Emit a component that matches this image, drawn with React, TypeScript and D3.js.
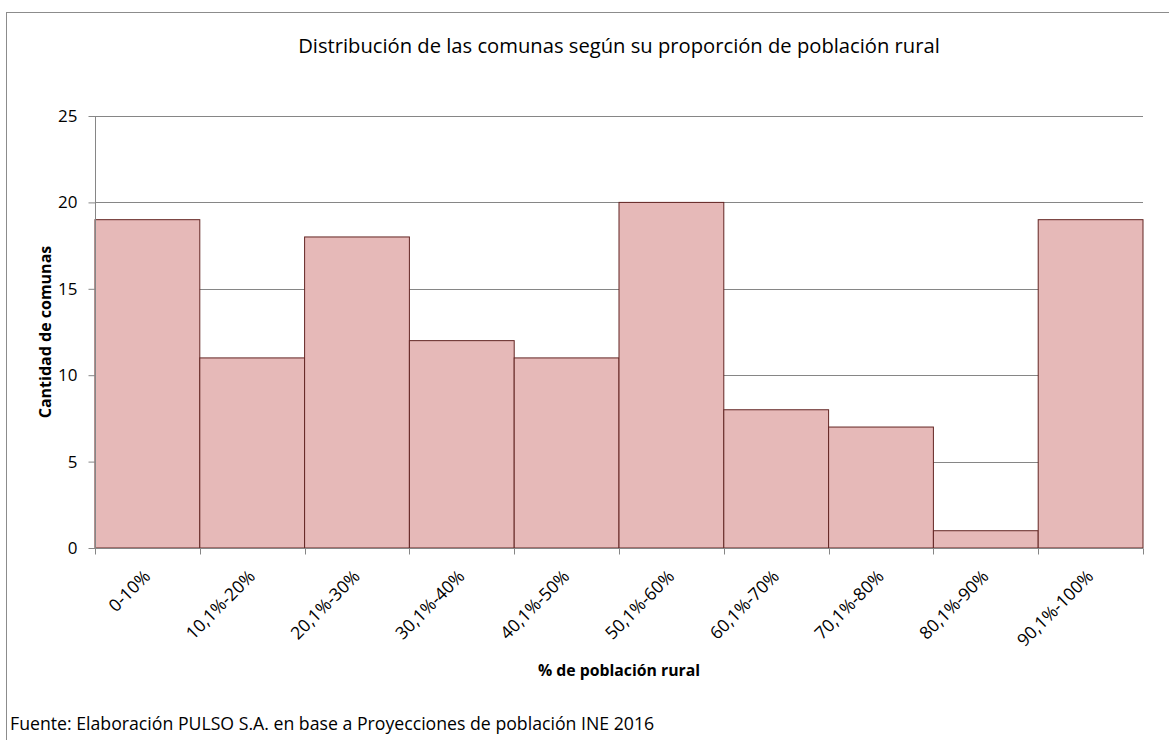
import React, { useRef, useEffect } from "react";
import * as d3 from "d3";

const categories = ["0-10%", "10,1%-20%", "20,1%-30%", "30,1%-40%", "40,1%-50%", "50,1%-60%", "60,1%-70%", "70,1%-80%", "80,1%-90%", "90,1%-100%"];
const counts = [19, 11, 18, 12, 11, 20, 8, 7, 1, 19];
const yTicks = [0, 5, 10, 15, 20, 25];

const FONT = "'Open Sans', 'Liberation Sans', sans-serif";

const App = () => {
  const svgRef = useRef<SVGSVGElement | null>(null);

  useEffect(() => {
    const svg = d3.select(svgRef.current);
    svg.selectAll("*").remove();

    const left = 95, right = 1143, top = 116, bottom = 548;

    const x = d3.scaleBand().domain(categories).range([left, right]).padding(0);
    const y = d3.scaleLinear().domain([0, 25]).range([bottom, top]);

    // chart frame
    svg.append("rect")
      .attr("x", 6.5).attr("y", 12.5)
      .attr("width", 1200).attr("height", 800)
      .attr("fill", "white").attr("stroke", "#8c8c8c").attr("stroke-width", 1);

    svg.append("text")
      .attr("x", 619).attr("y", 53)
      .attr("text-anchor", "middle")
      .attr("font-family", FONT).attr("font-size", 20.2)
      .text("Distribución de las comunas según su proporción de población rural");

    // gridlines
    svg.append("g")
      .selectAll("line")
      .data(yTicks.filter((t) => t > 0))
      .enter()
      .append("line")
      .attr("x1", left).attr("x2", right)
      .attr("y1", (d) => Math.round(y(d)) + 0.5).attr("y2", (d) => Math.round(y(d)) + 0.5)
      .attr("stroke", "#868686");

    // bars
    svg.append("g")
      .selectAll("rect")
      .data(counts)
      .enter()
      .append("rect")
      .attr("x", (d, i) => x(categories[i])!)
      .attr("y", (d) => y(d))
      .attr("width", x.bandwidth())
      .attr("height", (d) => bottom - y(d))
      .attr("fill", "#E6B9B8")
      .attr("stroke", "#632523")
      .attr("stroke-width", 1);

    // y axis
    const yAxis = svg.append("g")
      .attr("transform", `translate(${left + 0.5},0)`)
      .call(d3.axisLeft(y).tickValues(yTicks).tickSize(7).tickPadding(11).tickFormat(d3.format("d")));
    yAxis.select(".domain").attr("stroke", "#868686").attr("d", `M0,${top}V${bottom}`);
    yAxis.selectAll(".tick line").attr("stroke", "#868686");
    yAxis.selectAll(".tick text")
      .attr("font-family", FONT).attr("font-size", 17).attr("fill", "#000");

    // x axis
    const xAxisG = svg.append("g").attr("transform", `translate(0,${bottom + 0.5})`);
    xAxisG.append("line")
      .attr("x1", left).attr("x2", right)
      .attr("stroke", "#868686");
    const bounds = categories.map((c) => x(c)!).concat([right]);
    xAxisG.selectAll("line.tk")
      .data(bounds)
      .enter()
      .append("line")
      .attr("class", "tk")
      .attr("x1", (d) => Math.round(d) + 0.5).attr("x2", (d) => Math.round(d) + 0.5)
      .attr("y1", 0).attr("y2", 6)
      .attr("stroke", "#868686");
    xAxisG.selectAll("text")
      .data(categories)
      .enter()
      .append("text")
      .attr("transform", (d) => `translate(${x(d)! + x.bandwidth() / 2 + 4},${29}) rotate(-45)`)
      .attr("text-anchor", "end")
      .attr("font-family", FONT).attr("font-size", 17.5)
      .text((d) => d);

    // axis titles
    svg.append("text")
      .attr("transform", `translate(51,${(top + bottom) / 2}) rotate(-90)`)
      .attr("text-anchor", "middle")
      .attr("font-family", FONT).attr("font-size", 16).attr("font-weight", "bold")
      .text("Cantidad de comunas");

    svg.append("text")
      .attr("x", 619).attr("y", 676)
      .attr("text-anchor", "middle")
      .attr("font-family", FONT).attr("font-size", 15.8).attr("font-weight", "bold")
      .text("% de población rural");

    svg.append("text")
      .attr("x", 10).attr("y", 730)
      .attr("font-family", FONT).attr("font-size", 17.7)
      .text("Fuente: Elaboración PULSO S.A. en base a Proyecciones de población INE 2016");

    return () => {};
  }, []);

  return (
    <svg ref={svgRef} width={1169} height={740}
      style={{ position: "absolute", left: 0, top: 0, background: "white" }} />
  );
};

export default App;
